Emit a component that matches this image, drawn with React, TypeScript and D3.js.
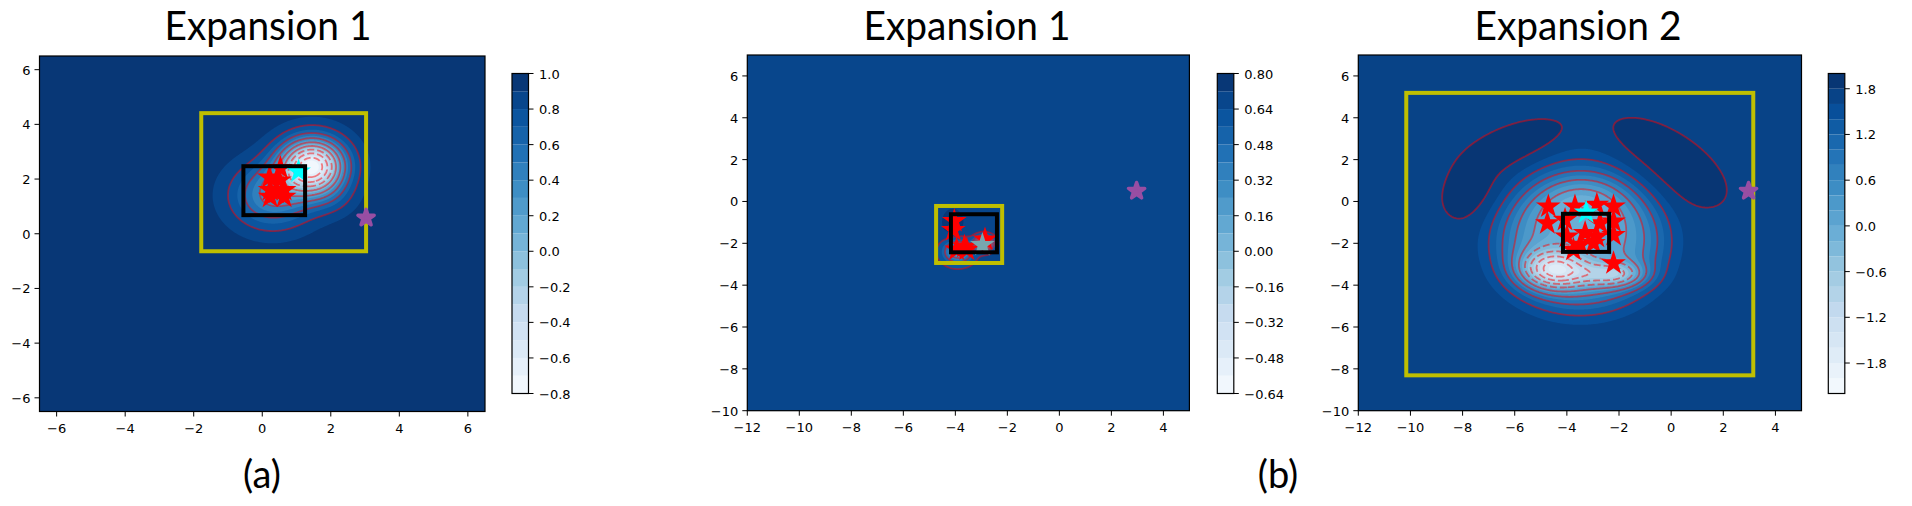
import React from "react";
import * as d3 from "d3";

const blueStops = ["#f7fbff", "#deebf7", "#c6dbef", "#9ecae1", "#6baed6", "#4292c6", "#2171b5", "#08519c", "#08306b"];

const titles = ["Expansion 1", "Expansion 1", "Expansion 2"];
const captions = ["(a)", "(b)"];

const xTicksA = [-6, -4, -2, 0, 2, 4, 6];
const yTicksA = [-6, -4, -2, 0, 2, 4, 6];
const xTicksB = [-12, -10, -8, -6, -4, -2, 0, 2, 4];
const yTicksB = [-10, -8, -6, -4, -2, 0, 2, 4, 6];

const bandsA = [-0.8, 0.1, 18];
const bandsB1 = [-0.64, 0.08, 18];
const bandsB2 = [-2.2, 0.2, 21];
const cbTicksA = [-0.8, -0.6, -0.4, -0.2, 0, 0.2, 0.4, 0.6, 0.8, 1.0];
const cbTicksB1 = [-0.64, -0.48, -0.32, -0.16, 0, 0.16, 0.32, 0.48, 0.64, 0.8];
const cbTicksB2 = [-1.8, -1.2, -0.6, 0, 0.6, 1.2, 1.8];
const cbDigitsA = 1, cbDigitsB1 = 2, cbDigitsB2 = 1;
const lineLevelsA = [-0.6, -0.4, -0.2, 0, 0.2, 0.4, 0.6, 0.8];
const lineLevelsB1 = [-0.48, -0.32, -0.16, 0, 0.16, 0.32, 0.48, 0.64];
const lineLevelsB2 = [-1.8, -1.4, -1.0, -0.6, -0.2, 0.2, 0.6, 1.0, 1.4, 1.8];

// surface: plateau plus bumps [cx, cy, sx, sy, angleDeg, amp, power]
const plateauA = 0.95;
const bumpsA = [
  [1.46, 2.48, 0.64, 0.68, 0, -1.66, 1],
  [0.3, 1.4, 0.79, 0.79, 0, -0.58, 1],
  [2.0, 1.35, 0.5, 0.5, 0, -0.12, 1],
];
const plateauB1 = 0.68;
const bumpsB1 = [
  [-3.9, -2.4, 0.37, 0.37, 0, -0.5, 1],
  [-2.9, -2.0, 0.22, 0.22, 0, -1.0, 1],
  [-4.1, -1.0, 0.35, 0.55, 0, 0.08, 1],
];
const plateauB2 = 1.72;
const bumpsB2 = [
  [-3.49, -1.95, 2.2, 2.2, 0, -1.6, 2],
  [-3.4, 0.35, 1.5, 1.3, 0, -0.5, 1],
  [-4.52, -3.25, 0.85, 0.62, 0, -1.85, 1],
  [-2.0, -3.5, 0.75, 0.42, 0, -0.95, 1],
  [-3.0, -3.5, 0.9, 0.4, 0, -0.45, 1],
  [-5.85, 2.72, 1.5, 0.74, 25, 0.2, 1.2],
  [-7.65, 0.5, 1.1, 0.78, 67, 0.2, 1],
  [-0.2, 1.85, 2.1, 1.05, -42, 0.2, 1.3],
];

const starsAx = [0.53, 0.21, 0.64, 0.23, 0.23, 0.64, 0.42, 0.5];
const starsAy = [2.4, 2.06, 1.6, 1.6, 1.35, 1.35, 1.5, 1.95];
const starsB1x = [-4.04, -4.08, -3.65, -3.95, -3.56, -2.86];
const starsB1y = [-0.93, -1.36, -2.16, -2.3, -2.3, -1.82];
const starsB2x = [-4.71, -3.69, -2.85, -2.21, -4.75, -2.21, -2.21, -4.07, -3.75, -3.3, -2.85, -3.49, -2.98, -2.21, -4.0, -2.73];
const starsB2y = [-0.24, -0.24, -0.16, -0.24, -1.04, -0.96, -1.6, -0.88, -2.31, -1.51, -1.68, -2.07, -1.99, -2.95, -1.68, -1.04];
const cyanA = [1.06, 2.28];
const cyanB1 = [-2.96, -2.08];
const cyanB2 = [-3.26, -0.53];
const purple = [3.03, 0.58];
const purpleB = [2.97, 0.5];
const yellowA = [-1.78, 3.03, -0.64, 4.41];
const blackA = [-0.55, 1.25, 0.68, 2.47];
const yellowB1 = [-4.74, -2.2, -2.94, -0.215];
const blackB1 = [-4.17, -2.4, -2.43, -0.61];
const yellowB2 = [-10.16, 3.15, -8.31, 5.19];
const blackB2 = [-4.15, -2.38, -2.41, -0.59];

const cmap = d3.scaleLinear<string>().domain(blueStops.map((_, i) => i / (blueStops.length - 1))).range(blueStops);
const FONT = "'DejaVu Sans'";
const starPath = (R: number) => d3.symbol().type(d3.symbolStar).size((R * R) / 0.8908130915)() as string;

function field(x: number, y: number, plateau: number, bumps: number[][]) {
  let z = plateau;
  for (const [cx, cy, sx, sy, ang, amp, p] of bumps) {
    const t = (ang * Math.PI) / 180;
    const dx = x - cx, dy = y - cy;
    const u = dx * Math.cos(t) + dy * Math.sin(t);
    const v = -dx * Math.sin(t) + dy * Math.cos(t);
    const q = (u * u) / (2 * sx * sx) + (v * v) / (2 * sy * sy);
    z += amp * Math.exp(-Math.pow(q, p));
  }
  return z;
}

function Panel(props: any) {
  const { left, right, top, bottom, xDom, yDom, xTicks, yTicks, bands, cbTicks, digits, lineLevels, plateau, bumps,
    starsX, starsY, cyan, purpleAt, yellow, black, barX, title, titleX, cyanFill } = props;
  const sx = d3.scaleLinear().domain(xDom).range([left, right]);
  const sy = d3.scaleLinear().domain(yDom).range([bottom, top]);
  const [min, step, n] = bands;
  const levels = d3.range(n + 1).map((i: number) => min + i * step);
  const W = Math.round(right - left), H = Math.round(bottom - top);
  const gx = d3.scaleLinear().domain([0, W]).range(xDom);
  const gy = d3.scaleLinear().domain([0, H]).range([yDom[1], yDom[0]]);
  const vals = new Float64Array(W * H);
  for (let j = 0; j < H; j++) for (let i = 0; i < W; i++) vals[j * W + i] = field(gx(i + 0.5), gy(j + 0.5), plateau, bumps);
  const px = d3.scaleLinear().domain([0, W]).range([left, right]);
  const py = d3.scaleLinear().domain([0, H]).range([top, bottom]);
  const gen = d3.contours().size([W, H]);
  const ringPath = (r: number[][]) => "M" + r.map((p) => `${px(p[0]).toFixed(2)},${py(p[1]).toFixed(2)}`).join("L") + "Z";
  const fills = levels.slice(1, -1).map((t: number, i: number) => {
    const c = gen.contour(vals as any, t + 1e-9);
    const d = c.coordinates.map((poly: any) => poly.map(ringPath).join("")).join("");
    return <path key={i} d={d} fill={cmap((i + 1.5) / n)} fillRule="evenodd" />;
  });
  const lines = lineLevels.map((t: number, i: number) => {
    const c = gen.contour(vals as any, t + 1e-9);
    const rings: number[][][] = [];
    c.coordinates.forEach((poly: any) => poly.forEach((r: number[][]) => {
      if (!r.some((p) => p[0] <= 1 || p[1] <= 1 || p[0] >= W - 1 || p[1] >= H - 1)) rings.push(r);
    }));
    return <path key={i} d={rings.map(ringPath).join("")} fill="none" stroke="#ff0000" strokeOpacity={0.48} strokeWidth={1.8}
      strokeDasharray={t < -1e-9 ? "7 3" : undefined} />;
  });
  const box = (b: number[], color: string) => (
    <rect x={sx(b[0])} y={sy(b[3])} width={sx(b[1]) - sx(b[0])} height={sy(b[2]) - sy(b[3])} fill="none" stroke={color} strokeWidth={4} />
  );
  const star = starPath(13);
  const id = `clip${Math.round(left)}`;
  const cb = d3.scaleLinear().domain([min, min + n * step]).range([393.5, 73.5]);
  const minus = (s: string) => s.replace("-", "\u2212");
  return (
    <g fontFamily={FONT} fontSize={13} fill="#000">
      <clipPath id={id}><rect x={left} y={top} width={right - left} height={bottom - top} /></clipPath>
      <g clipPath={`url(#${id})`}>
        <rect x={left} y={top} width={right - left} height={bottom - top} fill={cmap(0.5 / n)} />
        {fills}
        {lines}
      </g>
      {box(yellow, "#bfbf00")}
      {starsX.map((x: number, i: number) => (
        <path key={i} d={star} transform={`translate(${sx(x)},${sy(starsY[i])})`} fill="#ff0000" />
      ))}
      <path d={star} transform={`translate(${sx(cyan[0])},${sy(cyan[1])})`} fill={cyanFill} />
      {box(black, "#000")}
      <path d={starPath(8.5)} transform={`translate(${sx(purpleAt[0])},${sy(purpleAt[1])})`} fill="#984ea3" stroke="#984ea3" strokeWidth={3.5} strokeLinejoin="round" />
      <rect x={left} y={top} width={right - left} height={bottom - top} fill="none" stroke="#000" strokeWidth={1.2} />
      {xTicks.map((t: number) => (
        <g key={t}>
          <line x1={sx(t)} x2={sx(t)} y1={bottom} y2={bottom + 5} stroke="#000" />
          <text x={sx(t)} y={bottom + 21} textAnchor="middle">{minus(String(t))}</text>
        </g>
      ))}
      {yTicks.map((t: number) => (
        <g key={t}>
          <line x1={left - 5} x2={left} y1={sy(t)} y2={sy(t)} stroke="#000" />
          <text x={left - 9} y={sy(t) + 5} textAnchor="end">{minus(String(t))}</text>
        </g>
      ))}
      {d3.range(n).map((i: number) => (
        <rect key={i} x={barX} width={16.5} y={cb(levels[i + 1])} height={cb(levels[i]) - cb(levels[i + 1])} fill={cmap((i + 0.5) / n)} />
      ))}
      <rect x={barX} y={73.5} width={16.5} height={320} fill="none" stroke="#000" strokeWidth={1.2} />
      {cbTicks.map((t: number) => (
        <g key={t}>
          <line x1={barX + 16.5} x2={barX + 21.5} y1={cb(t)} y2={cb(t)} stroke="#000" />
          <text x={barX + 27} y={cb(t) + 5}>{minus(t.toFixed(digits))}</text>
        </g>
      ))}
      <text x={titleX} y={40} fontFamily="Lato" fontSize={40} textAnchor="middle" textLength={207} lengthAdjust="spacingAndGlyphs">{title}</text>
    </g>
  );
}

export default function App() {
  return (
    <svg width={1912} height={506} style={{ position: "absolute", left: 0, top: 0, background: "#fff" }}>
      <Panel left={39.5} right={485} top={56} bottom={411.5} xDom={[-6.5, 6.5]} yDom={[-6.5, 6.5]} xTicks={xTicksA} yTicks={yTicksA}
        bands={bandsA} cbTicks={cbTicksA} digits={cbDigitsA} lineLevels={lineLevelsA} plateau={plateauA} bumps={bumpsA}
        starsX={starsAx} starsY={starsAy} cyan={cyanA} purpleAt={purple} yellow={yellowA} black={blackA} barX={512} title={titles[0]} titleX={268} cyanFill="#00ffff" />
      <Panel left={747.3} right={1189.4} top={55} bottom={410.7} xDom={[-12, 5]} yDom={[-10, 7]} xTicks={xTicksB} yTicks={yTicksB}
        bands={bandsB1} cbTicks={cbTicksB1} digits={cbDigitsB1} lineLevels={lineLevelsB1} plateau={plateauB1} bumps={bumpsB1}
        starsX={starsB1x} starsY={starsB1y} cyan={cyanB1} purpleAt={purpleB} yellow={yellowB1} black={blackB1} barX={1217.3} title={titles[1]} titleX={967} cyanFill="#78a6ae" />
      <Panel left={1358.3} right={1801.5} top={55} bottom={410.7} xDom={[-12, 5]} yDom={[-10, 7]} xTicks={xTicksB} yTicks={yTicksB}
        bands={bandsB2} cbTicks={cbTicksB2} digits={cbDigitsB2} lineLevels={lineLevelsB2} plateau={plateauB2} bumps={bumpsB2}
        starsX={starsB2x} starsY={starsB2y} cyan={cyanB2} purpleAt={purpleB} yellow={yellowB2} black={blackB2} barX={1828.3} title={titles[2]} titleX={1578} cyanFill="#00ffff" />
      <text x={262} y={488} fontFamily="Lato" fontSize={38} textAnchor="middle">{captions[0]}</text>
      <text x={1278} y={488} fontFamily="Lato" fontSize={38} textAnchor="middle">{captions[1]}</text>
    </svg>
  );
}
